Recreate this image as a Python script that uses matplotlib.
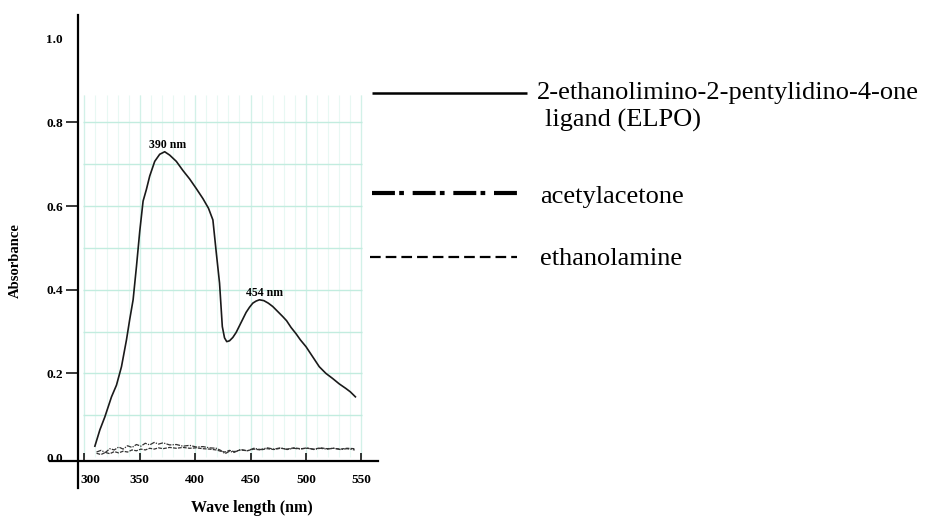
import numpy as np
import matplotlib
matplotlib.use('Agg')
import matplotlib.pyplot as plt
import matplotlib.transforms as mtransforms

plt.rcParams['font.family'] = 'Liberation Serif'

# ELPO ligand spectrum
elpo_nm = [309.5, 314, 318.5, 324.5, 329, 333.5, 338, 341, 344, 347,
           350, 353, 356, 359, 363.5, 368, 372.5, 377, 383, 389,
           395, 401, 407, 412, 416, 419, 422, 424.5, 426.5, 428.5,
           431, 434, 437, 440, 443, 446, 449, 452, 455, 458,
           462, 466, 470, 474.5, 479, 482.5, 486.5, 491, 495, 500,
           506, 512, 518, 524, 530, 536, 540, 544.6]
elpo_abs = [0.026, 0.065, 0.096, 0.144, 0.172, 0.216, 0.28, 0.33, 0.376, 0.455,
            0.54, 0.612, 0.64, 0.672, 0.707, 0.724, 0.73, 0.722, 0.707, 0.685,
            0.665, 0.642, 0.618, 0.595, 0.567, 0.49, 0.416, 0.312, 0.285, 0.276,
            0.278, 0.286, 0.298, 0.314, 0.33, 0.346, 0.358, 0.368, 0.373, 0.376,
            0.374, 0.368, 0.36, 0.348, 0.336, 0.326, 0.31, 0.295, 0.28, 0.264,
            0.24, 0.216, 0.2, 0.188, 0.175, 0.164, 0.156, 0.144]

# baselines of the two starting materials
base_nm = [311, 315, 319, 323, 327, 331, 335, 339, 343, 347,
           351, 355, 359, 363, 367, 371, 377, 383, 389, 395,
           401, 407, 413, 419, 423, 427, 431, 435, 441, 447,
           453, 459, 465, 471, 477, 483, 489, 495, 501, 507,
           513, 519, 525, 531, 537, 544]
acac_abs = [0.012, 0.016, 0.011, 0.020, 0.017, 0.024, 0.019, 0.027, 0.023, 0.030,
            0.026, 0.033, 0.029, 0.035, 0.031, 0.034, 0.029, 0.030, 0.026, 0.028,
            0.024, 0.025, 0.022, 0.021, 0.016, 0.008, 0.014, 0.011, 0.018, 0.015,
            0.021, 0.018, 0.022, 0.019, 0.022, 0.018, 0.021, 0.019, 0.022, 0.018,
            0.021, 0.019, 0.021, 0.018, 0.020, 0.017]
etoh_abs = [0.009, 0.006, 0.011, 0.008, 0.013, 0.010, 0.014, 0.012, 0.017, 0.015,
            0.019, 0.017, 0.021, 0.019, 0.022, 0.020, 0.023, 0.021, 0.023, 0.021,
            0.022, 0.020, 0.019, 0.017, 0.014, 0.012, 0.016, 0.013, 0.017, 0.015,
            0.019, 0.017, 0.020, 0.018, 0.021, 0.019, 0.022, 0.020, 0.021, 0.019,
            0.022, 0.020, 0.021, 0.019, 0.021, 0.020]

peak_nm = [372.5, 460]
peak_abs = [0.73, 0.376]
peak_labels = ['390 nm', '454 nm']

x_ticks = [300, 350, 400, 450, 500, 550]
y_ticks = [0.0, 0.2, 0.4, 0.6, 0.8, 1.0]
y_ticklabels = ['0.0', '0.2', '0.4', '0.6', '0.8', '1.0']

legend_labels = ['2-ethanolimino-2-pentylidino-4-one', 'ligand (ELPO)',
                 'acetylacetone', 'ethanolamine']

W, H = 926, 519
fig = plt.figure(figsize=(W / 100, H / 100), dpi=100)
ax = fig.add_axes([50 / W, 1 - 488 / H, 328 / W, 473 / H])
ax.set_xlim(269, 565)
ax.set_ylim(-0.074, 1.057)

# chart-paper grid
grid_h = np.arange(0.1, 0.85, 0.1)
grid_v = np.arange(300, 551, 10)
ax.vlines(grid_v, 0.0, 0.866, color='#e8f8f3', lw=0.8, zorder=0)
ax.vlines(grid_v[::5], 0.0, 0.866, color='#d2f1e8', lw=0.9, zorder=0)
ax.hlines(grid_h, 298.5, 551, color='#c2ecdf', lw=1.0, zorder=0)

ax.plot(elpo_nm, elpo_abs, color='#1a1a1a', lw=1.2)
ax.plot(base_nm, acac_abs, color='#333333', lw=0.9, ls=(0, (4, 1, 1, 1)))
ax.plot(base_nm, etoh_abs, color='#333333', lw=0.9, ls=(0, (3, 1)))

for xp, yp, lab in zip(peak_nm, peak_abs, peak_labels):
    ax.text(xp + 3, yp + 0.01, lab, ha='center', va='baseline',
            fontsize=8.5, fontweight='bold')

for side in ['top', 'right']:
    ax.spines[side].set_visible(False)
ax.spines['left'].set_position(('data', 294))
ax.spines['bottom'].set_position(('data', -0.01))
ax.spines['left'].set_linewidth(1.6)
ax.spines['bottom'].set_linewidth(1.6)

ax.set_xticks(x_ticks)
ax.set_yticks(y_ticks)
ax.set_yticklabels(y_ticklabels)
ax.tick_params(axis='x', direction='in', length=6, width=1.1, pad=9, labelsize=9.5)
ax.tick_params(axis='y', direction='out', length=8.5, width=1.1, pad=2, labelsize=9.5)
for lbl in ax.get_xticklabels() + ax.get_yticklabels():
    lbl.set_fontweight('bold')
yt = ax.yaxis.get_major_ticks()
yt[0].tick1line.set_visible(False)
yt[-1].tick1line.set_visible(False)
first = ax.get_xticklabels()[0]
first.set_transform(first.get_transform() +
                    mtransforms.ScaledTranslation(0.06, 0, fig.dpi_scale_trans))

ax.set_xlabel('Wave length (nm)', fontsize=11.5, fontweight='bold')
ax.set_ylabel('Absorbance', fontsize=10.5, fontweight='bold')
ax.xaxis.set_label_coords((252 - 50) / 328, (488 - 500) / 473)
ax.yaxis.set_label_coords((22 - 50) / 328, (488 - 261) / 473)

# legend drawn as free text beside the plot
lax = fig.add_axes([0, 0, 1, 1])
lax.set_xlim(0, W)
lax.set_ylim(H, 0)
lax.axis('off')
lax.plot([372, 527], [93, 93], color='black', lw=1.8, solid_capstyle='butt')
lax.plot([372, 517], [193, 193], color='black', lw=3,
         ls=(0, (5.5, 1.03, 1.13, 2.1)), dash_capstyle='butt')
lax.plot([370, 517], [257, 257], color='black', lw=1.6,
         ls=(0, (4.8, 2.26)), dash_capstyle='butt')
lax.text(537, 99, legend_labels[0], fontsize=19, va='baseline')
lax.text(545, 127, legend_labels[1], fontsize=19, va='baseline')
lax.text(540, 203, legend_labels[2], fontsize=19, va='baseline')
lax.text(540, 265, legend_labels[3], fontsize=19, va='baseline')

fig.savefig('out.png', dpi=100)
